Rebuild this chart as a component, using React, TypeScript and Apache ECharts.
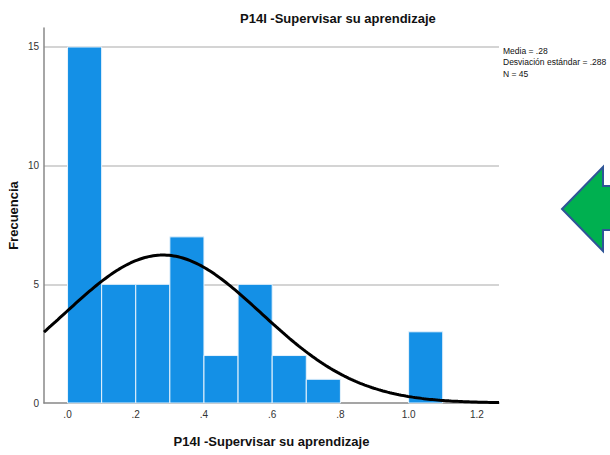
import React, { useEffect, useRef } from "react";
import * as echarts from "echarts";

const titleText = "P14I -Supervisar su aprendizaje";
const yAxisName = "Frecuencia";
const binStarts = [0.0, 0.1, 0.2, 0.3, 0.4, 0.5, 0.6, 0.7, 1.0];
const binCounts = [15, 5, 5, 7, 2, 5, 2, 1, 3];
const binWidth = 0.1;
const statMean = 0.28;
const statSd = 0.288;
const statN = 45;
const statLines = ["Media = .28", "Desviación estándar = .288", "N = 45"];
const xMin = -0.069;
const xMax = 1.265;
const yMax = 15.8;

function fmtX(v: number): string {
  const s = v.toFixed(1);
  return s.startsWith("0.") ? s.slice(1) : s;
}

export default function App() {
  const ref = useRef<HTMLDivElement>(null);
  useEffect(() => {
    if (!ref.current) return;
    const chart = echarts.init(ref.current, null, { renderer: "svg" });
    const bins = binStarts.map((s, i) => [s, s + binWidth, binCounts[i]]);
    const curve: number[][] = [];
    const steps = 200;
    for (let i = 0; i <= steps; i++) {
      const x = xMin + ((xMax - xMin) * i) / steps;
      const z = (x - statMean) / statSd;
      const y = (statN * binWidth) / (statSd * Math.sqrt(2 * Math.PI)) * Math.exp(-0.5 * z * z);
      curve.push([x, y]);
    }
    chart.setOption({
      animation: false,
      backgroundColor: "#ffffff",
      textStyle: { fontFamily: "Liberation Sans, Arial, sans-serif" },
      title: {
        text: titleText,
        left: 235,
        top: 7,
        textStyle: { fontSize: 13, fontWeight: "bold", color: "#111", fontFamily: "Liberation Sans, Arial, sans-serif" },
      },
      grid: { left: 44, right: 111, top: 28, bottom: 52, containLabel: false, outerBoundsMode: "none" },
      xAxis: {
        type: "value",
        position: "bottom",
        min: xMin,
        max: xMax,
        splitNumber: 7,
        minInterval: 0.2,
        maxInterval: 0.2,
        name: titleText,
        nameLocation: "middle",
        nameGap: 32,
        nameMoveOverlap: false,
        nameTextStyle: { fontSize: 13, fontWeight: "bold", color: "#111" },
        axisLine: { show: true, onZero: false, lineStyle: { color: "#888888", width: 1.5 } },
        axisTick: { show: false },
        splitLine: { show: false },
        axisLabel: {
          showMinLabel: false,
          showMaxLabel: false,
          fontSize: 10,
          color: "#333",
          margin: 6,
          formatter: (v: number) => fmtX(v),
        },
      },
      yAxis: {
        type: "value",
        position: "left",
        min: 0,
        max: yMax,
        interval: 5,
        name: yAxisName,
        nameLocation: "middle",
        nameGap: 24,
        nameMoveOverlap: false,
        nameTextStyle: { fontSize: 13, fontWeight: "bold", color: "#111" },
        axisLine: { show: true, onZero: false, lineStyle: { color: "#888888", width: 1.5 } },
        axisTick: { show: false },
        axisLabel: { showMaxLabel: false, fontSize: 10, color: "#333", margin: 5 },
        splitLine: { show: true, showMinLine: false, showMaxLine: false, lineStyle: { color: "#d4d4d4", width: 2 } },
      },
      series: [
        {
          type: "custom",
          data: bins,
          renderItem: (params: any, api: any) => {
            const p0 = api.coord([api.value(0), api.value(2)]);
            const p1 = api.coord([api.value(1), 0]);
            return {
              type: "rect",
              shape: { x: p0[0], y: p0[1], width: p1[0] - p0[0], height: p1[1] - p0[1] },
              style: { fill: "#1490E6", stroke: "#e8f3fc", lineWidth: 1 },
            };
          },
          z: 2,
        },
        {
          type: "line",
          data: curve,
          showSymbol: false,
          symbol: "none",
          lineStyle: { color: "#000", width: 3 },
          z: 3,
        },
      ],
      graphic: [
        {
          type: "text",
          left: 503,
          top: 45,
          style: {
            text: statLines.join("\n"),
            fontSize: 8.5,
            lineHeight: 11.5,
            fill: "#111",
            fontFamily: "Liberation Sans, Arial, sans-serif",
          },
        },
        {
          type: "polygon",
          shape: {
            points: [
              [562, 209],
              [603, 167],
              [603, 186],
              [612, 186],
              [612, 230],
              [603, 230],
              [603, 251],
            ],
          },
          style: { fill: "#00B050", stroke: "#2F5597", lineWidth: 2 },
        },
      ],
    });
    return () => chart.dispose();
  }, []);
  return (
    <div
      ref={ref}
      style={{ position: "fixed", left: 0, top: 0, width: 610, height: 455, background: "#fff" }}
    />
  );
}
